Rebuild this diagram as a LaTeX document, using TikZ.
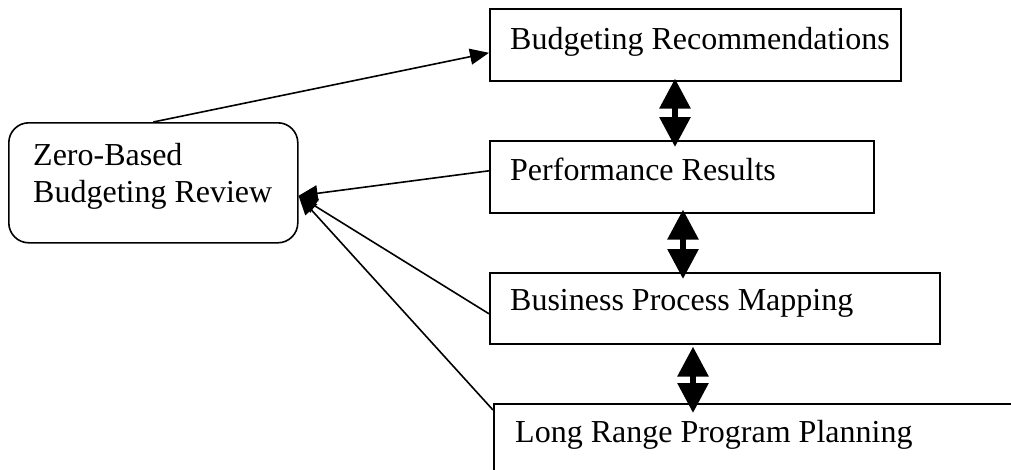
\documentclass[tikz,border=0pt]{standalone}
\usepackage{fontspec}
\setmainfont{Liberation Serif}
\usetikzlibrary{arrows.meta,calc}

\begin{document}
\begin{tikzpicture}[x=1pt,y=-1pt,
    box/.style={draw, line width=1.6pt, rectangle, inner sep=0pt, anchor=north west},
    rbox/.style={box, rounded corners=20pt},
    lbl/.style={inner sep=0pt, anchor=base west, font=\fontsize{32}{37}\selectfont},
    link/.style={line width=1.6pt, -{Triangle[length=19pt,width=16pt]}},
    dbl/.style={line width=6pt,
      {Triangle[length=30pt,width=30pt]}-{Triangle[length=30pt,width=30pt]}}]
  \clip (0,0) rectangle (1011,469);
  \useasboundingbox (0,0) rectangle (1011,469);

  % boxes
  \node[rbox, minimum width=289pt, minimum height=120pt] (zb) at (8,122) {};
  \node[box, minimum width=411pt, minimum height=72pt] (br) at (489,8) {};
  \node[box, minimum width=384pt, minimum height=72pt] (pr) at (489,140) {};
  \node[box, minimum width=450pt, minimum height=71pt] (bp) at (489,272) {};
  \node[box, minimum width=560pt, minimum height=120pt] (lr) at (493,403) {};

  % labels (the two-line label is placed by its last baseline)
  \node[lbl, align=left] (zbt) at (33,202) {Zero-Based\\Budgeting Review};
  \node[lbl] (brt) at (510,49) {Budgeting Recommendations};
  \node[lbl] (prt) at (510,180) {Performance Results};
  \node[lbl] (bpt) at (510,310) {Business Process Mapping};
  \node[lbl] (lrt) at (515,442) {Long Range Program Planning};

  % point on the review box where the feedback arrows meet
  \coordinate (zbin) at ([yshift=-13pt]zb.east);

  % review feeds the recommendations
  \draw[link] (zb.north) -- ([yshift=-8pt]br.west);

  % feedback into the review
  \draw[link] ([yshift=6pt]pr.west) -- (zbin);
  \draw[link] ([yshift=-5.5pt]bp.west) -- (zbin);
  \draw[link] ([yshift=-7pt]lr.north west) -- (zbin);

  % two-way links between the stacked boxes
  \draw[dbl] ($(br.south west)+(186,-3)$) -- ($(pr.north west)+(186,7)$);
  \draw[dbl] ($(pr.south west)+(194,-4)$) -- ($(bp.north west)+(194,7)$);
  \draw[dbl] ($(bp.south west)+(204,2)$) -- ($(lr.north west)+(200,10)$);
\end{tikzpicture}
\end{document}
